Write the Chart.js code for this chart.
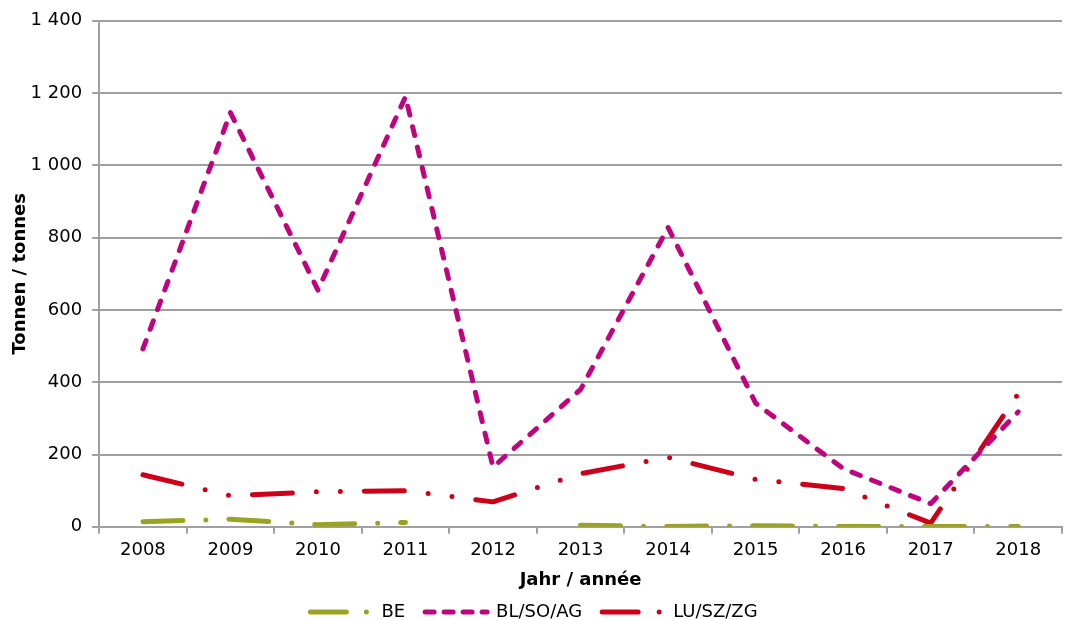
<!DOCTYPE html>
<html>
<head>
<meta charset="utf-8">
<script src="https://cdn.jsdelivr.net/npm/chart.js@4/dist/chart.umd.min.js"></script>
<style>
  html, body { margin: 0; padding: 0; background: #fff; }
  #wrap { width: 1066px; height: 620px; }
</style>
</head>
<body>
<div id="wrap"><canvas id="chart"></canvas></div>
<script>
const years = ['2008','2009','2010','2011','2012','2013','2014','2015','2016','2017','2018'];
const be   = [14, 21, 6, 12, null, 4, 1, 3, 1, 1, 1];
const blSoAg = [492, 1146, 655, 1190, 165, 380, 828, 342, 161, 64, 318];
const luSzZg = [144, 86, 97, 100, 69, 147, 192, 131, 106, 10, 368];
const yTicks = [0, 200, 400, 600, 800, 1000, 1200, 1400];

const olive   = '#9aa31f';
const magenta = '#c0047f';
const rot     = '#cc0019';
const grau    = '#a0a0a0';

Chart.defaults.font.family = '"DejaVu Sans", Verdana, sans-serif';
Chart.defaults.font.size = 18;
Chart.defaults.color = '#000';

const fmt = v => String(v).replace(/\B(?=(\d{3})+(?!\d))/g, ' ');

function serie(label, data, color, dash, legendDash) {
  return {
    label, data,
    borderColor: color,
    backgroundColor: color,
    borderWidth: 5,
    borderDash: dash,
    legendDash: legendDash,
    borderCapStyle: 'round',
    borderJoinStyle: 'round',
    pointRadius: 0,
    tension: 0,
    spanGaps: false
  };
}

// legend a bit flatter than Chart.js makes it
const legendFit = {
  id: 'legendFit',
  afterInit(chart) {
    const orig = chart.legend.fit;
    chart.legend.fit = function () { orig.call(this); this.height -= 11; };
  }
};

new Chart(document.getElementById('chart'), {
  type: 'line',
  data: {
    labels: years,
    datasets: [
      serie('BE', be, olive, [40, 23, 0, 23], [36, 20, 0, 30]),
      serie('BL/SO/AG', blSoAg, magenta, [9, 12], [9, 10]),
      serie('LU/SZ/ZG', luSzZg, rot, [40, 24, 0, 24, 0, 24], [36, 21, 0, 30])
    ]
  },
  plugins: [legendFit],
  options: {
    responsive: true,
    maintainAspectRatio: false,
    animation: false,
    layout: { padding: { left: 6, right: 4, top: 10, bottom: 0 } },
    plugins: {
      tooltip: { enabled: false },
      legend: {
        position: 'bottom',
        labels: {
          usePointStyle: true,
          pointStyle: 'line',
          pointStyleWidth: 62,
          padding: 20,
          font: { size: 18 },
          generateLabels: chart =>
            Chart.defaults.plugins.legend.labels.generateLabels(chart).map(l => {
              const ds = chart.data.datasets[l.datasetIndex];
              return { ...l, lineDash: ds.legendDash, lineCap: 'round', lineWidth: 5, strokeStyle: ds.borderColor };
            })
        }
      }
    },
    scales: {
      x: {
        offset: true,
        grid: { offset: true, drawOnChartArea: false, color: grau, lineWidth: 2, tickLength: 7 },
        border: { color: grau, width: 2 },
        ticks: { padding: 6, maxRotation: 0 },
        title: { display: true, text: 'Jahr / année', font: { weight: 'bold', size: 18 }, padding: { top: 2, bottom: -8 } }
      },
      y: {
        min: 0,
        max: 1400,
        afterBuildTicks: axis => { axis.ticks = yTicks.map(v => ({ value: v })); },
        grid: { color: grau, lineWidth: 2, tickLength: 7 },
        border: { color: grau, width: 2 },
        ticks: { padding: 10, callback: v => fmt(v) },
        title: { display: true, text: 'Tonnen / tonnes', font: { weight: 'bold', size: 18 }, padding: { top: 4, bottom: -11 } }
      }
    }
  }
});
</script>
</body>
</html>
